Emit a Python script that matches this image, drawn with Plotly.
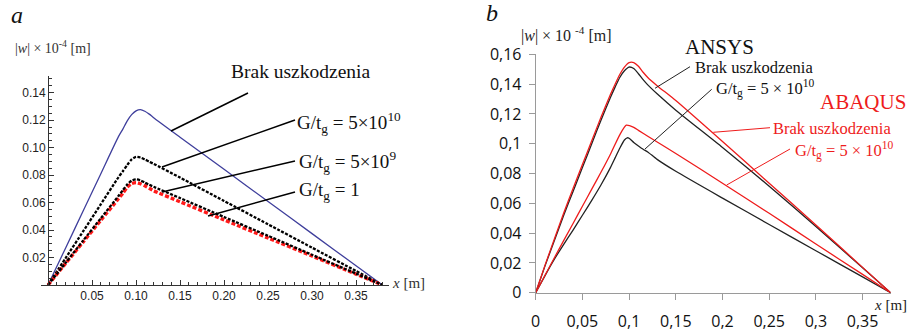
import plotly.graph_objects as go

W, H = 912, 331

# ---------------- Panel a data ----------------
xa_blue = [0, 0.02, 0.04, 0.06, 0.08, 0.085, 0.09, 0.095, 0.1, 0.105, 0.11, 0.115, 0.12, 0.15, 0.2, 0.25, 0.3, 0.35, 0.38]
ya_blue = [0, 0.027, 0.054, 0.081, 0.108, 0.1135, 0.1195, 0.124, 0.1268, 0.1277, 0.1265, 0.1244, 0.1218, 0.1076, 0.0842, 0.0608, 0.0374, 0.014, 0]

xa_g5e10 = [0, 0.02, 0.04, 0.06, 0.08, 0.085, 0.09, 0.095, 0.1, 0.105, 0.11, 0.115, 0.12, 0.15, 0.2, 0.25, 0.3, 0.35, 0.38]
ya_g5e10 = [0, 0.0196, 0.0392, 0.0588, 0.0784, 0.0828, 0.0874, 0.0914, 0.0933, 0.0928, 0.0914, 0.0898, 0.0882, 0.0782, 0.0612, 0.0442, 0.0272, 0.0102, 0]

xa_g5e9 = [0, 0.02, 0.04, 0.06, 0.08, 0.085, 0.09, 0.095, 0.1, 0.105, 0.11, 0.115, 0.12, 0.15, 0.2, 0.25, 0.3, 0.35, 0.38]
ya_g5e9 = [0, 0.0162, 0.0324, 0.0486, 0.0648, 0.069, 0.0732, 0.076, 0.0769, 0.0762, 0.0745, 0.073, 0.0715, 0.0633, 0.0495, 0.0358, 0.022, 0.0083, 0]

xa_g1 = [0, 0.02, 0.04, 0.06, 0.08, 0.085, 0.09, 0.095, 0.1, 0.105, 0.11, 0.115, 0.12, 0.15, 0.2, 0.25, 0.3, 0.35, 0.38]
ya_g1 = [0, 0.0157, 0.0314, 0.0471, 0.0628, 0.0668, 0.0712, 0.0738, 0.0745, 0.0737, 0.0722, 0.0704, 0.0686, 0.0606, 0.0474, 0.0342, 0.0211, 0.0079, 0]

xa_tickvals = [0.05, 0.10, 0.15, 0.20, 0.25, 0.30, 0.35]
xa_ticktext = ["0.05", "0.10", "0.15", "0.20", "0.25", "0.30", "0.35"]
ya_tickvals = [0.02, 0.04, 0.06, 0.08, 0.10, 0.12, 0.14]
ya_ticktext = ["0.02", "0.04", "0.06", "0.08", "0.10", "0.12", "0.14"]

# ---------------- Panel b data ----------------
xb_ansys_brak = [0, 0.01, 0.02, 0.03, 0.04, 0.05, 0.06, 0.07, 0.08, 0.085, 0.09, 0.095, 0.1, 0.105, 0.11, 0.115, 0.12, 0.13, 0.15, 0.2, 0.25, 0.3, 0.35, 0.38]
yb_ansys_brak = [0, 0.018, 0.035, 0.052, 0.068, 0.084, 0.1, 0.116, 0.131, 0.138, 0.1445, 0.149, 0.1515, 0.1505, 0.147, 0.143, 0.1395, 0.1335, 0.1225, 0.0975, 0.0715, 0.0445, 0.0167, 0]

xb_abaqus_brak = [0, 0.01, 0.02, 0.03, 0.04, 0.05, 0.06, 0.07, 0.08, 0.085, 0.09, 0.095, 0.1, 0.105, 0.11, 0.115, 0.12, 0.13, 0.15, 0.2, 0.25, 0.3, 0.35, 0.38]
yb_abaqus_brak = [0, 0.0185, 0.036, 0.0535, 0.07, 0.086, 0.102, 0.118, 0.133, 0.14, 0.1465, 0.1515, 0.1545, 0.1545, 0.152, 0.148, 0.1445, 0.139, 0.129, 0.1015, 0.0735, 0.0455, 0.017, 0]

xb_ansys_g = [0, 0.01, 0.02, 0.03, 0.04, 0.05, 0.06, 0.07, 0.08, 0.085, 0.09, 0.095, 0.098, 0.1, 0.105, 0.11, 0.115, 0.12, 0.13, 0.15, 0.2, 0.25, 0.3, 0.35, 0.38]
yb_ansys_g = [0, 0.0115, 0.0225, 0.0325, 0.042, 0.052, 0.062, 0.0725, 0.084, 0.0905, 0.097, 0.1025, 0.104, 0.1037, 0.1008, 0.0985, 0.0963, 0.0945, 0.0895, 0.0815, 0.0635, 0.0458, 0.0282, 0.0106, 0]

xb_abaqus_g = [0, 0.02, 0.04, 0.05, 0.06, 0.07, 0.08, 0.09, 0.097, 0.105, 0.11, 0.12, 0.15, 0.2, 0.25, 0.3, 0.35, 0.38]
yb_abaqus_g = [0, 0.0235, 0.0465, 0.058, 0.0695, 0.081, 0.093, 0.106, 0.1125, 0.111, 0.109, 0.105, 0.0935, 0.0735, 0.0533, 0.0327, 0.0123, 0]

xb_tickvals = [0, 0.05, 0.1, 0.15, 0.2, 0.25, 0.3, 0.35]
xb_ticktext = ["0", "0,05", "0,1", "0,15", "0,2", "0,25", "0,3", "0,35"]
yb_tickvals = [0, 0.02, 0.04, 0.06, 0.08, 0.1, 0.12, 0.14, 0.16]
yb_ticktext = ["0", "0,02", "0,04", "0,06", "0,08", "0,1", "0,12", "0,14", "0,16"]

SERIF = "Liberation Serif, Times New Roman, serif"
SANS_A = "Liberation Sans, Arial, sans-serif"
SANS_B = "Open Sans, Liberation Sans, sans-serif"

fig = go.Figure()

def sc(x, y, xa, ya, color, width, dash="solid", smooth=0.6):
    fig.add_trace(go.Scatter(x=x, y=y, xaxis=xa, yaxis=ya, mode="lines",
                             line=dict(color=color, width=width, dash=dash,
                                       shape="spline", smoothing=smooth),
                             hoverinfo="skip", showlegend=False))

# panel a
sc(xa_blue, ya_blue, "x", "y", "#3f3f9c", 1.3)
sc(xa_g5e10, ya_g5e10, "x", "y", "#000000", 2.3, "3px,1.5px")
sc(xa_g1, ya_g1, "x", "y", "#ff1a1a", 3.4, "4px,2px")
sc(xa_g5e9, ya_g5e9, "x", "y", "#000000", 2.3, "3px,1.5px")

# panel b
sc(xb_ansys_brak, yb_ansys_brak, "x2", "y2", "#222222", 1.3)
sc(xb_abaqus_brak, yb_abaqus_brak, "x2", "y2", "#ee1c1c", 1.3)
sc(xb_ansys_g, yb_ansys_g, "x2", "y2", "#222222", 1.3)
sc(xb_abaqus_g, yb_abaqus_g, "x2", "y2", "#ee1c1c", 1.3)

def px(x):
    return x / W

def py(y):
    return 1 - y / H

# Panel geometry (pixels)
a_x0_px, a_x1_px = 41.0, 388.6
a_y0_px, a_y1_px = 285.0, 76.2
b_x0_px, b_x1_px = 535.7, 890.6
b_y0_px, b_y1_px = 292.7, 54.3

fig.update_layout(
    width=W, height=H,
    margin=dict(l=0, r=0, t=0, b=0, autoexpand=False),
    paper_bgcolor="white", plot_bgcolor="white",
    showlegend=False,
    xaxis=dict(domain=[px(a_x0_px), px(a_x1_px)], range=[-0.008, 0.387],
               anchor="y", automargin=False, showline=True, linecolor="#333", linewidth=1,
               ticks="inside", ticklen=5, tickcolor="#333", tickwidth=1,
               tickvals=xa_tickvals, ticktext=xa_ticktext,
               tickfont=dict(family=SANS_A, size=12, color="#222"),
               minor=dict(tick0=0, dtick=0.01, ticks="inside", ticklen=3, tickcolor="#333"),
               showgrid=False, zeroline=False, fixedrange=True),
    yaxis=dict(domain=[py(a_y0_px), py(a_y1_px)], range=[0, 0.152],
               anchor="free", position=px(48.0), automargin=False,
               showline=True, linecolor="#333", linewidth=1,
               ticks="inside", ticklen=5, tickcolor="#333", tickwidth=1,
               tickvals=ya_tickvals, ticktext=ya_ticktext,
               tickfont=dict(family=SANS_A, size=12, color="#222"),
               minor=dict(tick0=0, dtick=0.005, ticks="inside", ticklen=3, tickcolor="#333"),
               showgrid=False, zeroline=False, fixedrange=True),
    xaxis2=dict(domain=[px(b_x0_px), px(b_x1_px)], range=[0, 0.38],
                anchor="y2", automargin=False, showline=True, linecolor="#9a9a9a", linewidth=1,
                ticks="outside", ticklen=6, tickcolor="#9a9a9a",
                tickvals=xb_tickvals, ticktext=xb_ticktext,
                tickfont=dict(family=SANS_B, size=16, color="#111"),
                ticklabelstandoff=8,
                showgrid=False, zeroline=False, fixedrange=True),
    yaxis2=dict(domain=[py(b_y0_px), py(b_y1_px)], range=[0, 0.16005],
                anchor="x2", automargin=False, showline=True, linecolor="#9a9a9a", linewidth=1,
                ticks="outside", ticklen=6, tickcolor="#9a9a9a",
                tickvals=yb_tickvals, ticktext=yb_ticktext,
                tickfont=dict(family=SANS_B, size=16, color="#111"),
                ticklabelstandoff=4,
                showgrid=False, zeroline=False, fixedrange=True),
)

def txt(x, y, text, size, color="#111", family=SERIF, xanchor="left"):
    fig.add_annotation(x=px(x), y=py(y), xref="paper", yref="paper", text=text,
                       showarrow=False, xanchor=xanchor, yanchor="middle",
                       font=dict(family=family, size=size, color=color),
                       borderpad=0, borderwidth=0)

def seg(x0, y0, x1, y1, color="#000", width=1.5):
    fig.add_shape(type="line", xref="paper", yref="paper",
                  x0=px(x0), y0=py(y0), x1=px(x1), y1=py(y1),
                  line=dict(color=color, width=width))

# panel a labels
txt(11, 15, "<i>a</i>", 24)
txt(15, 47, "|<i>w</i>| × 10<sup>-4</sup> [m]", 14, "#333")
txt(392, 283, "<i>x</i> [m]", 15, "#333")
txt(231, 72, "Brak uszkodzenia", 19.5)
txt(297, 122, "G/t<sub>g</sub> = 5×10<sup>10</sup>", 19)
txt(299, 162, "G/t<sub>g</sub> = 5×10<sup>9</sup>", 19)
txt(299, 191, "G/t<sub>g</sub> = 1", 19)
seg(248, 93, 171, 131)
seg(295, 120, 162, 167)
seg(295, 161, 162, 192)
seg(295, 192, 208, 216)

# panel b labels
txt(486, 13, "<i>b</i>", 24)
txt(521, 34, "|<i>w</i>| × 10 <sup>-4</sup> [m]", 16, "#222")
txt(874, 305, "<i>x</i> [m]", 15, "#222")
txt(685, 47, "ANSYS", 21, "#111")
txt(695, 67, "Brak uszkodzenia", 16.5, "#111")
txt(716, 88, "G/t<sub>g</sub> = 5 × 10<sup>10</sup>", 16.5, "#111")
txt(820, 102, "ABAQUS", 21, "#ee1c1c")
txt(773, 128, "Brak uszkodzenia", 16.5, "#ee1c1c")
txt(795, 150, "G/t<sub>g</sub> = 5 × 10<sup>10</sup>", 16.5, "#ee1c1c")
seg(690, 66.7, 655, 88.3, "#222", 1)
seg(711.7, 89.3, 645, 149, "#222", 1)
seg(770, 127.7, 713.3, 132.3, "#ee1c1c", 1)
seg(790, 149, 726.7, 185, "#ee1c1c", 1)

fig.write_html("out.html")
